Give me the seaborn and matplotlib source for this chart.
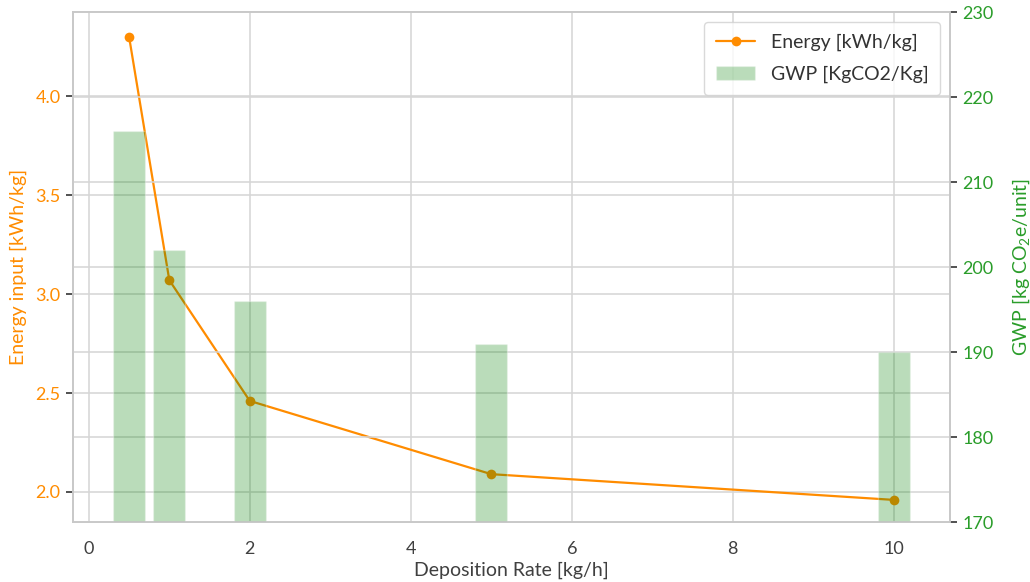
import matplotlib
matplotlib.use("Agg")
import matplotlib.pyplot as plt
import seaborn as sns
import pandas as pd

rates = [0.5, 1, 2, 5, 10]
energy = [4.30, 3.07, 2.46, 2.09, 1.96]
gwp = [216, 202, 196, 191, 190]

sns.set_theme(style="whitegrid")
plt.rcParams['font.family'] = ['Lato', 'DejaVu Sans']
plt.rcParams['mathtext.fontset'] = 'custom'
plt.rcParams['mathtext.rm'] = 'Lato'
plt.rcParams['mathtext.it'] = 'Lato:italic'

orange = '#ff8c00'
green_txt = '#2a9d2a'

df = pd.DataFrame({'rate': rates, 'energy': energy, 'gwp': gwp})

fig, ax1 = plt.subplots(figsize=(10.30, 5.82), dpi=100)
fig.subplots_adjust(left=0.071, right=0.922, top=0.979, bottom=0.103)

sns.lineplot(data=df, x='rate', y='energy', ax=ax1, color=orange, marker='o',
             markersize=7, markeredgewidth=0, linewidth=1.6, label='Energy [kWh/kg]', legend=False)

ax2 = ax1.twinx()
ax2.bar(df['rate'], df['gwp'], width=0.4, color='green', alpha=0.27, label='GWP [KgCO2/Kg]')

ax1.set_ylim(1.848, 4.424)
ax2.set_ylim(170, 230)
ax1.set_xticks([0, 2, 4, 6, 8, 10])
ax1.set_yticks([2.0, 2.5, 3.0, 3.5, 4.0])
ax2.set_yticks([170, 180, 190, 200, 210, 220, 230])

ax1.set_xlabel('Deposition Rate [kg/h]', fontsize=14, color='#404040', labelpad=3)
ax1.set_ylabel('Energy input [kWh/kg]', fontsize=14, color=orange, labelpad=6)
ax2.set_ylabel('GWP [kg CO$_2$e/unit]', fontsize=14, color=green_txt, labelpad=12)

ax1.tick_params(axis='x', labelsize=13, labelcolor='#404040', pad=8)
ax1.tick_params(axis='y', labelsize=13, labelcolor=orange, left=True, length=5, color='#333333', width=1.2, pad=4)
ax2.tick_params(axis='y', labelsize=13, labelcolor=green_txt, right=True, length=5, color='#333333', width=1.2, pad=4)

for ax in (ax1, ax2):
    for s in ax.spines.values():
        s.set_color('#c8c8c8')
        s.set_linewidth(1.2)
ax1.grid(True, color='#d5d5d5', linewidth=1.1)
ax2.grid(True, axis='y', color='#d5d5d5', linewidth=1.1)
ax2.grid(False, axis='x')

h1, l1 = ax1.get_legend_handles_labels()
h2, l2 = ax2.get_legend_handles_labels()
leg = ax2.legend(h1 + h2, l1 + l2, loc='upper right', fontsize=14, frameon=True,
                 labelspacing=0.75, borderpad=0.6)
leg.get_frame().set_edgecolor('#d0d0d0')
for t in leg.get_texts():
    t.set_color('#333333')

fig.savefig('out.png', dpi=100)
